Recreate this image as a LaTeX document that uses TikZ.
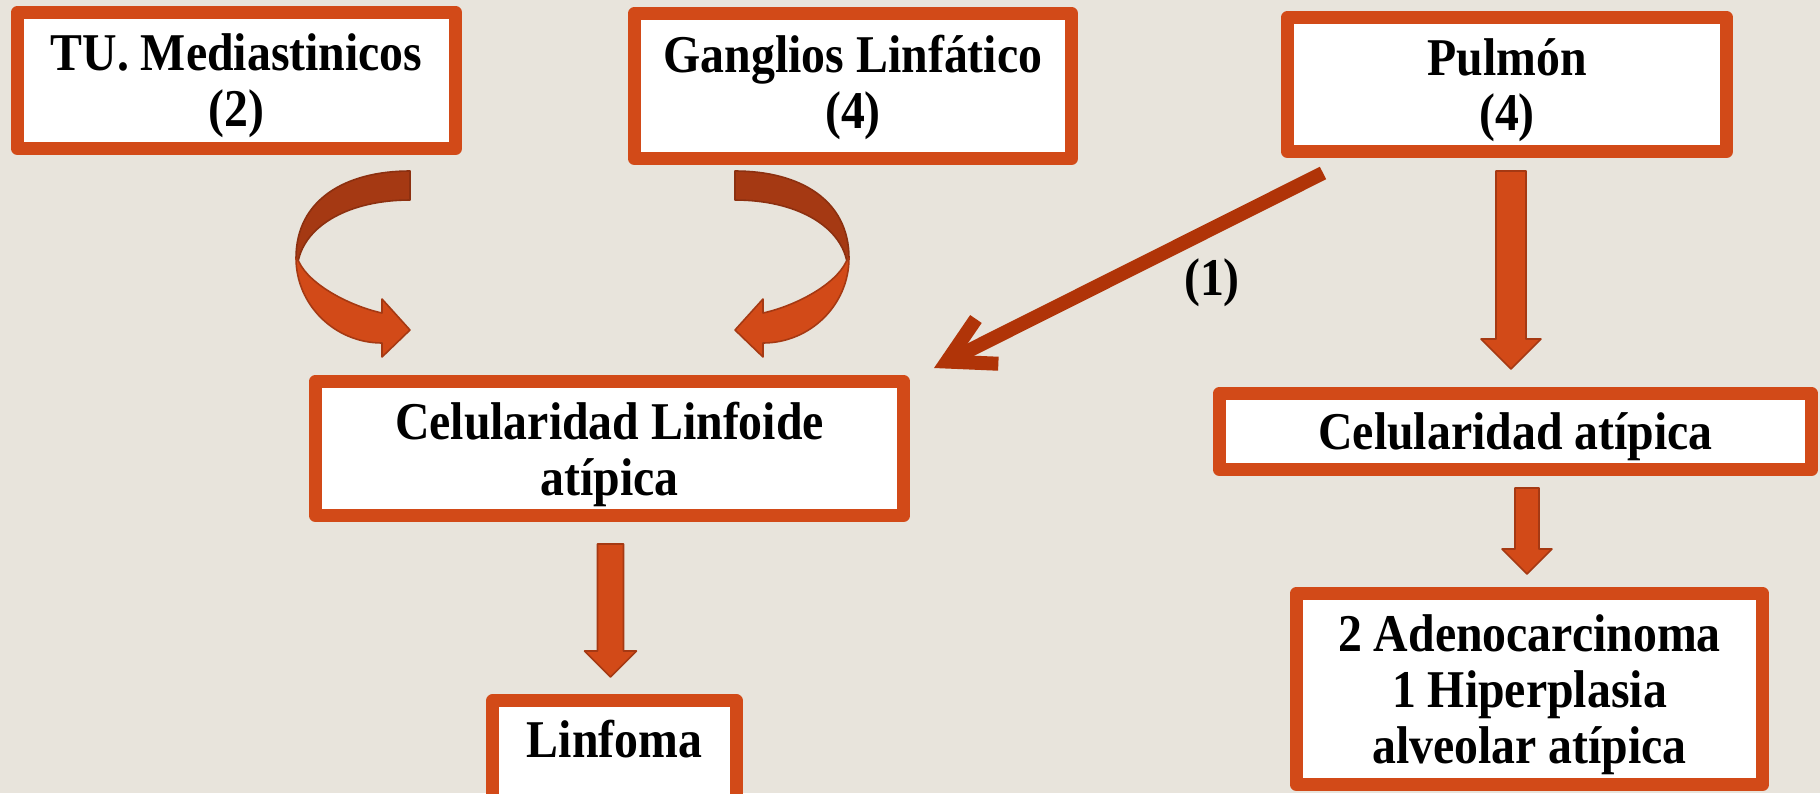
\documentclass[tikz,border=0pt]{standalone}
\usepackage{fontspec}
\setmainfont{Liberation Serif}[FakeStretch=0.9]
\usetikzlibrary{arrows.meta,calc}

\definecolor{bgtan}{RGB}{232,228,220}
\definecolor{boxred}{RGB}{210,74,24}
\definecolor{arrdark}{RGB}{165,57,19}
\definecolor{arrline}{RGB}{176,52,8}

\newcommand{\blockdown}[4]{% top, tip, shaft half width, head size
  \draw[blockarr] ($(#1)+(-#3,0)$) -- ($(#1)+(#3,0)$) -- ($(#2)+(#3,-#4)$)
    -- ($(#2)+(#4,-#4)$) -- (#2) -- ($(#2)+(-#4,-#4)$) -- ($(#2)+(-#3,-#4)$) -- cycle;}

\tikzset{
  box/.style={draw=boxred, line width=0.13cm, line join=round, fill=white,
    align=center, inner sep=2pt, text depth=0pt,
    font=\fontsize{15.1}{15.9}\selectfont\bfseries},
  lbl/.style={font=\fontsize{15.1}{15.9}\selectfont\bfseries},
  blockarr/.style={fill=boxred, draw=arrdark, line width=0.45pt, line join=round},
  linkarr/.style={draw=arrline, line width=0.14cm,
    -{Straight Barb[length=0.45cm,width=0.5cm]}},
  curvarrow/.pic={
    \filldraw[fill=arrdark, draw=arrdark!85!black, line width=0.45pt, line join=round]
      (0,0) .. controls (-65,0) and (-114,29) .. (-114,87)
      -- (-112,91) .. controls (-105,54) and (-60,29) .. (0,29) -- cycle;
    \filldraw[fill=boxred, draw=arrdark, line width=0.45pt, line join=round]
      (-114,87) .. controls (-114,134) and (-75,172) .. (-28,172)
      -- (-28,186) -- (0,159) -- (-28,128) -- (-28,142)
      .. controls (-60,135) and (-100,114) .. (-111,91) -- cycle;
  }
}

\begin{document}
\begin{tikzpicture}[x=0.01cm, y=-0.01cm]
  \useasboundingbox (0,0) rectangle (1820,793);
  \fill[bgtan] (0,0) rectangle (1820,793);
  \begin{scope}
  \clip (0,0) rectangle (1820,793);

  % the boxes
  \node[box, minimum width=4.38cm, minimum height=1.36cm] (tu) at (236.5,80.5) {TU. Mediastinicos\\(2)};
  \node[box, minimum width=4.37cm, minimum height=1.45cm, text depth=0.08cm] (ganglios) at (853,86) {Ganglios Linfático\\(4)};
  \node[box, minimum width=4.39cm, minimum height=1.34cm] (pulmon) at (1507,84.5) {Pulmón\\(4)};
  \node[box, minimum width=5.88cm, minimum height=1.34cm] (linfoide) at (609.5,448.5) {Celularidad Linfoide\\atípica};
  \node[box, minimum width=5.92cm, minimum height=0.76cm] (atipica) at (1515.5,431.5) {Celularidad atípica};
  \node[box, minimum width=4.66cm, minimum height=1.91cm] (adeno) at (1529.5,689) {2 Adenocarcinoma\\1 Hiperplasia\\alveolar atípica};
  \node[box, minimum width=2.43cm, minimum height=1.07cm, text depth=0.3cm] (linfoma) at (614.5,754) {Linfoma};

  % curved arrows into the lymphoid box
  \pic at (410,171) {curvarrow};
  \pic[xscale=-1] at (735,171) {curvarrow};

  % pulmon -> linfoide
  \coordinate (p1) at (1323,173);
  \coordinate (p2) at (934,368);
  \draw[linkarr] (p1) -- (p2);
  \node[lbl] (one) at (1212,283) {(1)};

  % block arrows
  \coordinate (d1) at (1511,171);
  \coordinate (d2) at (1511,369);
  \coordinate (d3) at (1527,488);
  \coordinate (d4) at (1527,574);
  \coordinate (d5) at (610.5,544);
  \coordinate (d6) at (610.5,677);
  \blockdown{d1}{d2}{15}{30}
  \blockdown{d3}{d4}{12}{25}
  \blockdown{d5}{d6}{13}{26}
  \end{scope}
\end{tikzpicture}
\end{document}
